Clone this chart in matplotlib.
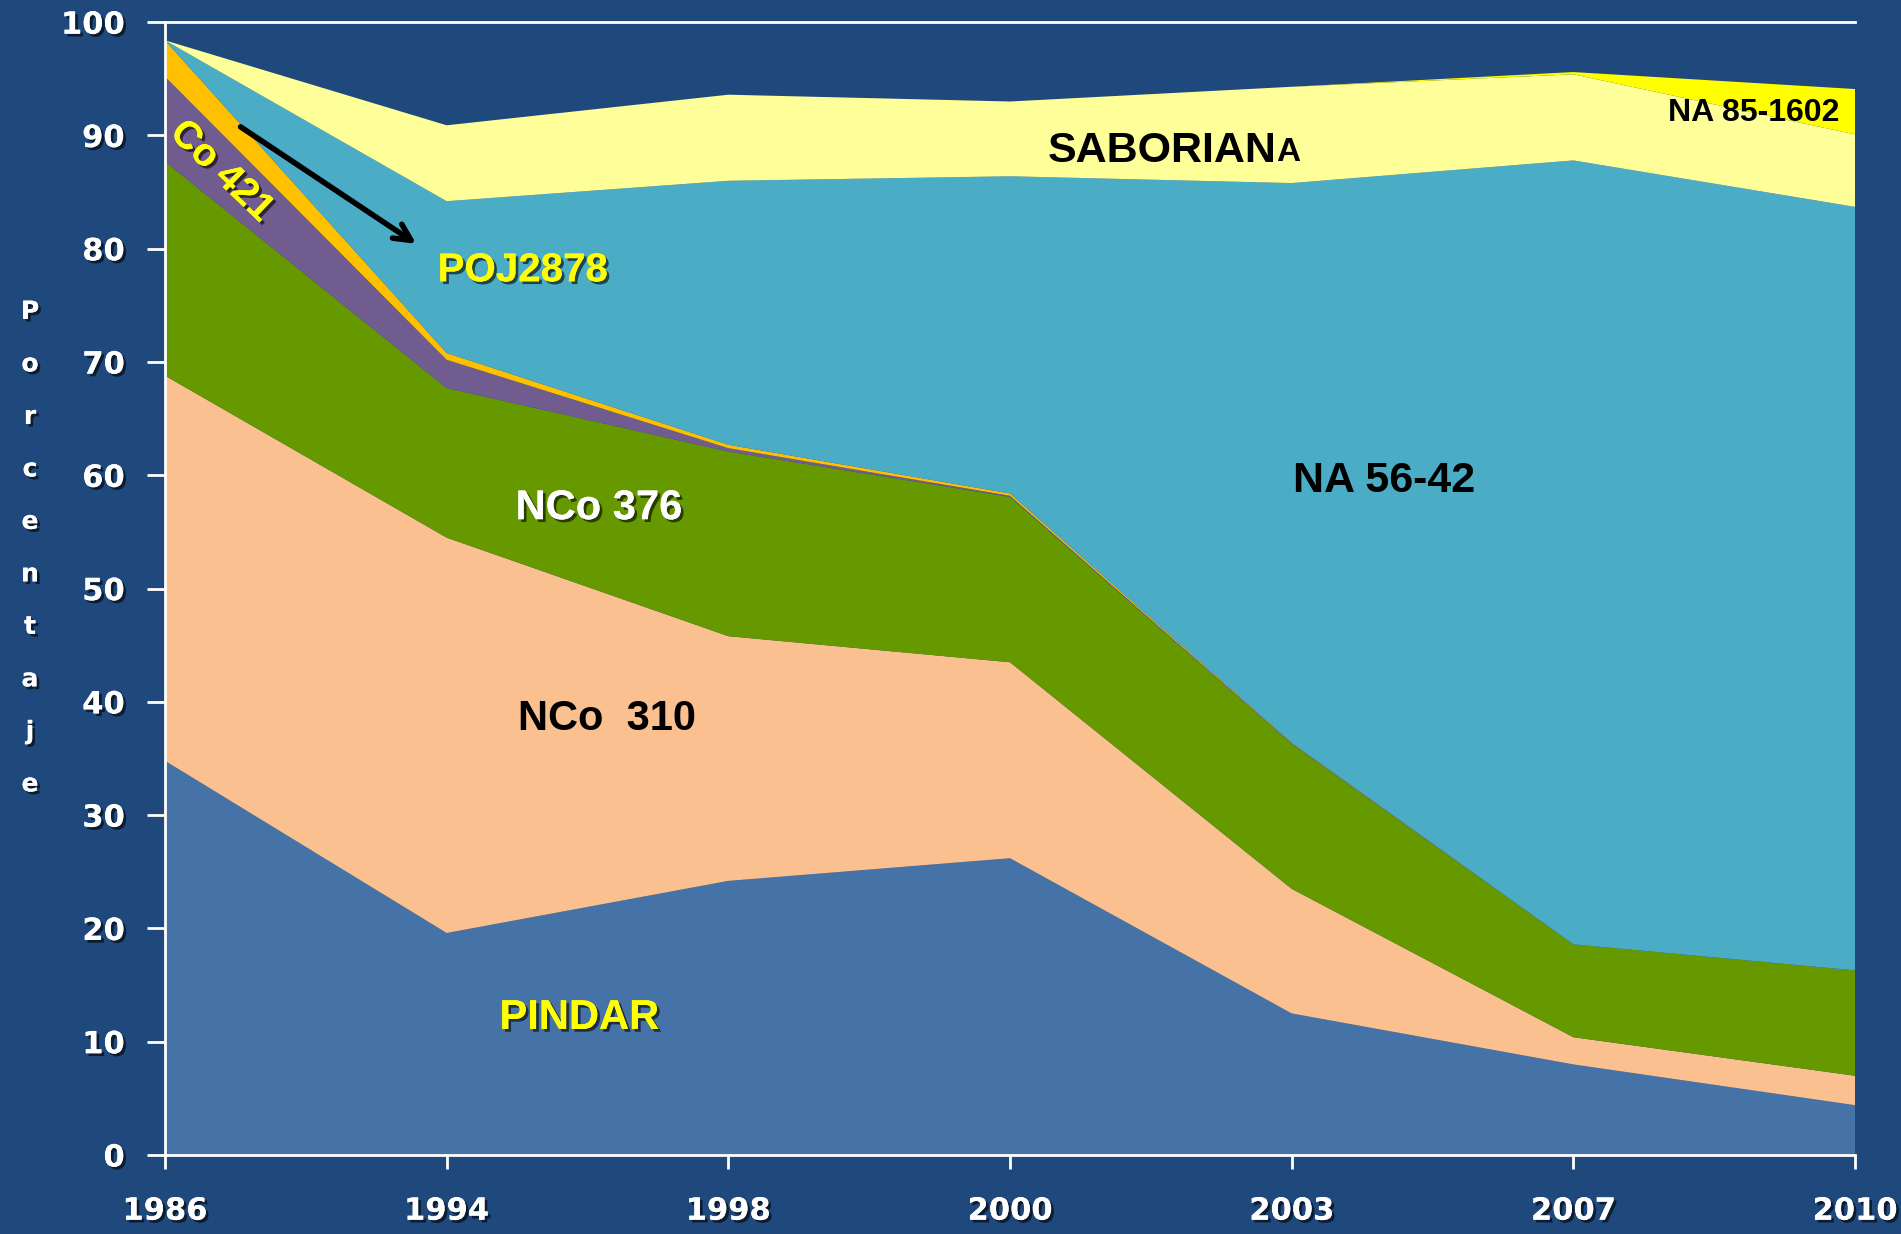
import matplotlib.pyplot as plt
import matplotlib.patheffects as pe
import numpy as np

years = ['1986', '1994', '1998', '2000', '2003', '2007', '2010']

pindar = [34.8, 19.6, 24.2, 26.2, 12.5, 8.0, 4.4]
nco310 = [34.0, 34.9, 21.6, 17.3, 11.0, 2.4, 2.6]
nco376 = [18.9, 13.2, 16.3, 14.6, 12.8, 8.2, 9.3]
co421 = [7.5, 2.5, 0.3, 0.1, 0.05, 0.0, 0.0]
poj2878 = [3.2, 0.6, 0.3, 0.2, 0.05, 0.0, 0.0]
na5642 = [0.0, 13.4, 23.3, 28.0, 49.4, 69.2, 67.4]
saboriana = [0.0, 6.7, 7.6, 6.6, 8.5, 7.6, 6.4]
na851602 = [0.0, 0.0, 0.0, 0.0, 0.0, 0.2, 4.0]

colors = ['#4573A7', '#FAC090', '#669900', '#705C8F', '#FFC000',
          '#4BACC6', '#FFFF99', '#FFFF00']
bg = '#1F497D'

x = np.arange(len(years))

fig = plt.figure(figsize=(19.01, 12.34), dpi=100, facecolor=bg)
ax = fig.add_axes([0.0868, 0.064, 0.889, 0.918])
ax.set_facecolor(bg)

ax.stackplot(x, pindar, nco310, nco376, co421, poj2878, na5642, saboriana,
             na851602, colors=colors, linewidth=0)

ax.set_xlim(0, len(years) - 1)
ax.set_ylim(0, 100)
ax.set_xticks(x)
ax.set_yticks(range(0, 101, 10))

shadow = [pe.withSimplePatchShadow(offset=(2, -2), shadow_rgbFace='black', alpha=0.6), pe.Normal()]
ax.set_xticklabels(years)
for lab in ax.get_xticklabels() + ax.get_yticklabels():
    lab.set_fontweight('bold')
    lab.set_fontsize(22)
    lab.set_color('white')
    lab.set_path_effects(shadow)
ax.tick_params(axis='x', length=10, width=2, color='white', pad=20)
ax.tick_params(axis='y', length=13, width=2, color='white', pad=16)

for side in ['left', 'bottom', 'top']:
    ax.spines[side].set_color('white')
    ax.spines[side].set_linewidth(2)
ax.spines['right'].set_visible(False)

fig.text(0.0158, 0.757, '\n'.join('Porcentaje'), color='white', fontsize=18,
         fontweight='bold', ha='center', va='top', linespacing=2.5,
         path_effects=shadow)

lbl = dict(family='Liberation Sans', fontweight='bold', ha='center', va='center')
ax.text(1.47, 12.1, 'PINDAR', color='#FFFF00', fontsize=30, path_effects=shadow, **lbl)
ax.text(1.57, 38.5, 'NCo  310', color='black', fontsize=30, **lbl)
ax.text(1.54, 57.1, 'NCo 376', color='white', fontsize=30, path_effects=shadow, **lbl)
ax.text(1.27, 78.1, 'POJ2878', color='#FFFF00', fontsize=29, path_effects=shadow, **lbl)
ax.text(4.33, 59.5, 'NA 56-42', color='black', fontsize=31, **lbl)
ax.text(5.64, 92.0, 'NA 85-1602', color='black', fontsize=23, **lbl)
sab = ax.text(3.54, 88.6, 'SABORIAN', color='black', fontsize=31, **lbl)
ax.annotate('A', xy=(1, 0.08), xycoords=sab, color='black', fontsize=24,
            family='Liberation Sans', fontweight='bold', ha='left', va='bottom')
ax.text(0.20, 86.8, 'Co 421', color='#FFFF00', fontsize=28, rotation=-44,
        path_effects=shadow, **lbl)

ax.annotate('', xy=(0.90, 80.3), xytext=(0.26, 90.9),
            arrowprops=dict(arrowstyle='->', color='black', lw=4,
                            mutation_scale=30))

fig.savefig('out.png', dpi=100, facecolor=bg)
